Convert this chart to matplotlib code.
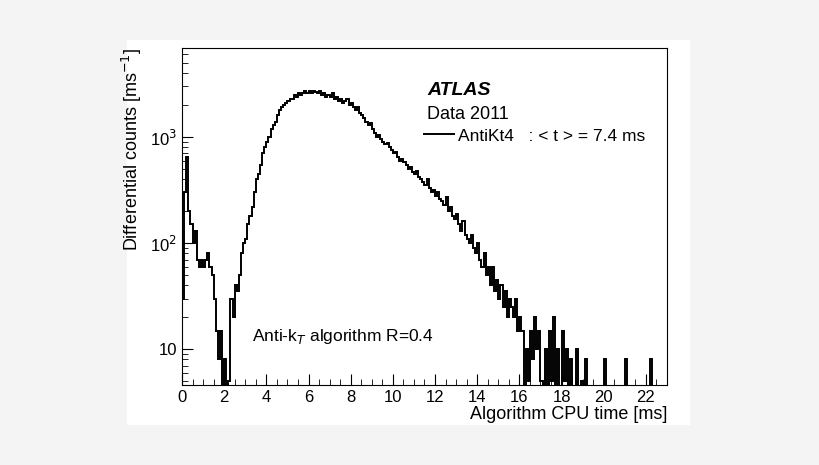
import numpy as np
import matplotlib.pyplot as plt
from matplotlib.ticker import MultipleLocator, NullFormatter

plt.rcParams['font.family'] = ['Liberation Sans', 'DejaVu Sans']

bin_width = 0.1
counts = [
    30, 300, 650, 200, 150, 100, 130, 70, 60, 70,
    60, 70, 80, 60, 50, 30, 15, 8, 15, 0,
    8, 0, 5, 30, 20, 40, 35, 50, 80, 100,
    110, 150, 180, 220, 300, 400, 450, 550, 700, 800,
    900, 1000, 1200, 1300, 1400, 1600, 1800, 1900, 2000, 2100,
    2200, 2300, 2300, 2500, 2400, 2600, 2500, 2600, 2700, 2600,
    2700, 2600, 2700, 2650, 2600, 2700, 2500, 2600, 2400, 2500,
    2400, 2600, 2300, 2400, 2200, 2300, 2100, 2200, 2300, 2000,
    2100, 1900, 1800, 1900, 1700, 1600, 1500, 1400, 1300, 1350,
    1200, 1100, 1000, 1050, 950, 900, 850, 880, 800, 750,
    700, 720, 650, 600, 620, 580, 550, 500, 520, 470,
    450, 480, 420, 400, 380, 350, 400, 330, 300, 320,
    280, 300, 260, 250, 230, 270, 200, 220, 180, 170,
    190, 150, 130, 160, 120, 110, 100, 120, 90, 80,
    100, 70, 60, 80, 50, 60, 40, 60, 35, 45,
    30, 40, 25, 35, 20, 30, 25, 20, 30, 15,
    20, 15, 0, 10, 5, 15, 8, 20, 10, 15,
    5, 0, 10, 0, 15, 5, 20, 0, 10, 0,
    15, 5, 10, 0, 8, 0, 0, 10, 0, 5,
    0, 8, 0, 0, 0, 0, 0, 0, 0, 0,
    8, 0, 0, 0, 0, 0, 0, 0, 0, 0,
    8, 0, 0, 0, 0, 0, 0, 0, 0, 0,
    0, 0, 8, 0, 0, 0, 0, 0, 0, 0,
]
edges = np.arange(len(counts) + 1) * bin_width
vals = np.where(np.array(counts) > 0, counts, 1e-3)

fig = plt.figure(figsize=(8.2, 4.65), dpi=100)
fig.patch.set_facecolor('#f4f4f4')
bg = fig.add_axes([127 / 820, 40 / 465, 563 / 820, 385 / 465], zorder=-1)
bg.set_facecolor('white')
bg.axis('off')
bg.add_patch(plt.Rectangle((0, 0), 1, 1, transform=bg.transAxes,
                           facecolor='white', edgecolor='none'))

ax = fig.add_axes([182 / 820, 80 / 465, 485 / 820, 337 / 465])
ax.set_facecolor('white')
ax.stairs(vals, edges, color='black', lw=1.4, baseline=None)
ax.set_yscale('log')
ax.set_xlim(0, 23)
ax.set_ylim(4.6, 6900)
ax.xaxis.set_major_locator(MultipleLocator(2))
ax.xaxis.set_minor_locator(MultipleLocator(0.5))
ax.tick_params(which='both', direction='in', labelsize=12)
ax.tick_params(which='major', length=8)
ax.tick_params(which='minor', length=4)
ax.yaxis.set_minor_formatter(NullFormatter())
ax.set_yticks([10, 100, 1000], ['10', r'10$^2$', r'10$^3$'])
ax.set_xlabel('Algorithm CPU time [ms]', fontsize=13, loc='right', labelpad=1)
ax.set_ylabel(r'Differential counts [ms$^{-1}$]', fontsize=13, loc='top')

ax.text(0.506, 0.86, 'ATLAS', transform=ax.transAxes, fontsize=14,
        fontweight='bold', style='italic')
ax.text(0.506, 0.79, 'Data 2011', transform=ax.transAxes, fontsize=13)
ax.plot([0.50, 0.56], [0.745, 0.745], transform=ax.transAxes, color='black', lw=1.4)
ax.text(0.57, 0.725, 'AntiKt4   : < t > = 7.4 ms', transform=ax.transAxes, fontsize=12.5)
ax.text(0.145, 0.13, r'Anti-k$_T$ algorithm R=0.4', transform=ax.transAxes, fontsize=12.5)

fig.savefig('out.png', dpi=100, facecolor=fig.get_facecolor())
